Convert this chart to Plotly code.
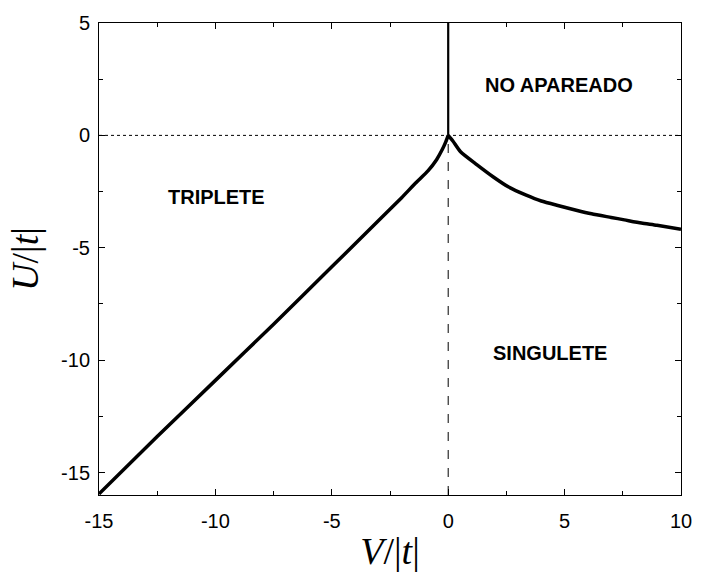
import plotly.graph_objects as go

# Triplet / singlet boundary (V < 0) and singlet / unpaired boundary (V > 0)
v_left = [-15.0, -12.5, -10.0, -7.5, -5.0, -3.0, -2.0, -1.4, -0.87, -0.5, -0.25, -0.1, 0.0]
u_left = [-15.95, -13.4, -10.9, -8.4, -5.85, -3.8, -2.77, -2.12, -1.58, -1.08, -0.62, -0.28, 0.0]
v_right = [0.0, 0.2, 0.53, 1.24, 1.94, 2.6, 3.35, 4.0, 4.75, 5.5, 6.16, 7.0, 7.57, 8.3, 8.97, 10.0]
u_right = [0.0, -0.25, -0.73, -1.31, -1.85, -2.3, -2.66, -2.92, -3.13, -3.33, -3.49, -3.65, -3.76, -3.9, -4.0, -4.18]

x_ticks = [-15, -10, -5, 0, 5, 10]
x_ticktext = ["-15", "-10", "-5", "0", "5", "10"]
y_ticks = [-15, -10, -5, 0, 5]
y_ticktext = ["-15", "-10", "-5", "0", "5"]

labels = ["TRIPLETE", "SINGULETE", "NO APAREADO"]
label_v = [-9.96, 4.37, 4.77]
label_u = [-2.75, -9.7, 2.23]

x_range = [-15, 10]
y_range = [-16, 5]

fig = go.Figure()

# horizontal reference line U = 0 (thin dotted)
fig.add_trace(go.Scatter(x=x_range, y=[0, 0], mode="lines",
                         line=dict(color="black", width=1, dash="dot"),
                         hoverinfo="skip", showlegend=False))
# vertical line V = 0 below the cusp (thin dashed)
fig.add_trace(go.Scatter(x=[0, 0], y=[y_range[0], 0], mode="lines",
                         line=dict(color="black", width=1, dash="dash"),
                         hoverinfo="skip", showlegend=False))
# vertical boundary V = 0 above the cusp (solid)
fig.add_trace(go.Scatter(x=[0, 0], y=[0, y_range[1]], mode="lines",
                         line=dict(color="black", width=2.2),
                         hoverinfo="skip", showlegend=False))
fig.add_trace(go.Scatter(x=v_left, y=u_left, mode="lines",
                         line=dict(color="black", width=3.5, shape="spline", smoothing=0.6),
                         showlegend=False))
fig.add_trace(go.Scatter(x=v_right, y=u_right, mode="lines",
                         line=dict(color="black", width=3.5, shape="spline", smoothing=0.6),
                         showlegend=False))

for t, xv, yv in zip(labels, label_v, label_u):
    fig.add_annotation(x=xv, y=yv, text="<b>" + t + "</b>", showarrow=False,
                       font=dict(family="Liberation Sans, Arial", size=20, color="black"))

axis_common = dict(showgrid=False, zeroline=False, showline=True, linecolor="black",
                   linewidth=1, mirror="ticks", ticks="inside", ticklen=6,
                   tickcolor="black", tickwidth=1,
                   tickfont=dict(family="Liberation Sans, Arial", size=20, color="black"),
                   minor=dict(ticks="inside", ticklen=4, tickcolor="black", dtick=2.5))

fig.update_xaxes(range=x_range, tickvals=x_ticks, ticktext=x_ticktext, ticklabelstandoff=8,
                 title=dict(text="<i>V</i>/|<i>t</i>|", standoff=6,
                            font=dict(family="Liberation Serif, Times New Roman", size=38, color="black")),
                 **axis_common)
fig.update_yaxes(range=y_range, tickvals=y_ticks, ticktext=y_ticktext, ticklabelstandoff=4,
                 title=dict(text="<i>U</i>/|<i>t</i>|", standoff=10,
                            font=dict(family="Liberation Serif, Times New Roman", size=38, color="black")),
                 **axis_common)

fig.update_layout(width=704, height=577, autosize=False,
                  margin=dict(l=99, r=12, t=16, b=82),
                  paper_bgcolor="white", plot_bgcolor="white")

fig.write_html("out.html")
